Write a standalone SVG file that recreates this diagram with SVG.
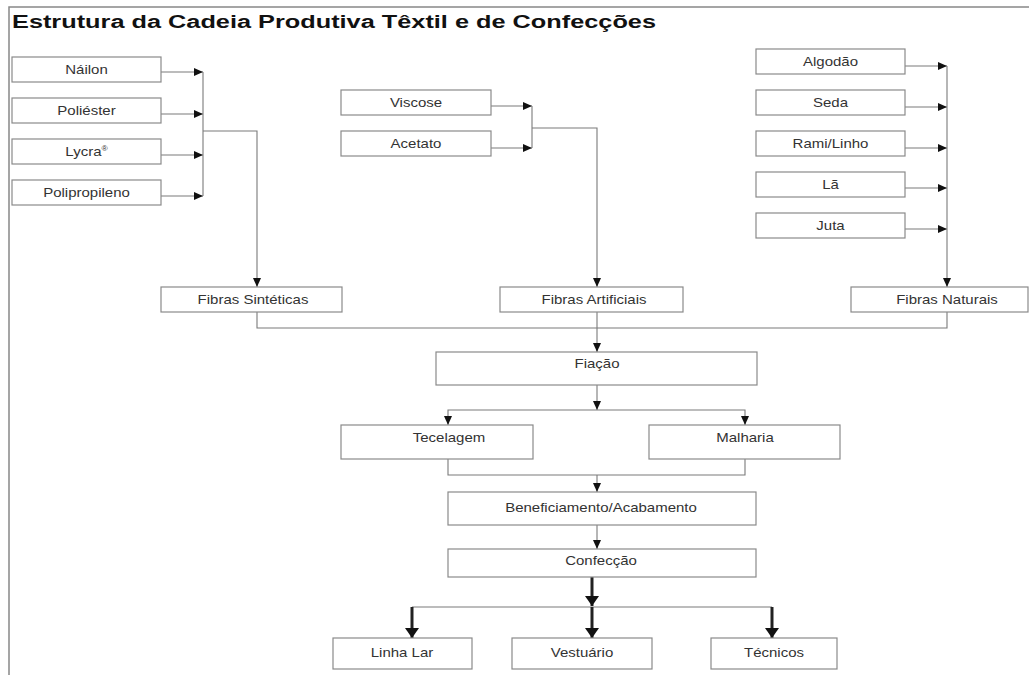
<svg xmlns="http://www.w3.org/2000/svg" width="1029" height="675" viewBox="0 0 1029 675">
<style>
.box{fill:#fff;stroke:#8a8a8a;stroke-width:1.2}
.lbl{font-family:"Liberation Sans",Arial,sans-serif;font-size:12.5px;fill:#333;text-anchor:middle}
.ln{fill:none;stroke:#7a7a7a;stroke-width:1.1}
.arr{fill:none;stroke:#7a7a7a;stroke-width:1.1;marker-end:url(#ah)}
.thick{fill:none;stroke:#222;stroke-width:3;marker-end:url(#ahb)}
</style>
<defs>
<marker id="ah" markerUnits="userSpaceOnUse" markerWidth="10" markerHeight="8" refX="9" refY="4" orient="auto"><path d="M0,0 L9,4 L0,8 z" fill="#111"/></marker>
<marker id="ahb" markerUnits="userSpaceOnUse" markerWidth="11" markerHeight="14" refX="10" refY="7" orient="auto"><path d="M0,0 L10,7 L0,14 z" fill="#111"/></marker>
</defs>
<rect width="1029" height="675" fill="#fff"/>
<path d="M9,675 V7 H1029" fill="none" stroke="#888" stroke-width="1.5"/>
<text x="12" y="28" font-family="'Liberation Sans',Arial,sans-serif" font-weight="bold" font-size="18" fill="#111" textLength="644" lengthAdjust="spacingAndGlyphs">Estrutura da Cadeia Produtiva Têxtil e de Confecções</text>

<g id="connectors">
<path class="arr" d="M161,72 H203"/>
<path class="arr" d="M161,114 H203"/>
<path class="arr" d="M161,155 H203"/>
<path class="arr" d="M161,196 H203"/>
<path class="ln" d="M203,72 V196"/>
<path class="arr" d="M203,131 H257 V287"/>
<path class="arr" d="M491,106 H532"/>
<path class="arr" d="M491,148 H532"/>
<path class="ln" d="M532,106 V148"/>
<path class="arr" d="M532,128 H597 V287"/>
<path class="arr" d="M905,66 H947"/>
<path class="arr" d="M905,107 H947"/>
<path class="arr" d="M905,148 H947"/>
<path class="arr" d="M905,188 H947"/>
<path class="arr" d="M905,229 H947"/>
<path class="arr" d="M947,66 V287"/>
<path class="ln" d="M257,312 V328 H947 V312"/>
<path class="arr" d="M597,312 V352"/>
<path class="arr" d="M597,385 V410"/>
<path class="arr" d="M597,410 H448 V425"/>
<path class="arr" d="M597,410 H745 V425"/>
<path class="ln" d="M448,459 V475 H745 V459"/>
<path class="arr" d="M597,475 V492"/>
<path class="arr" d="M597,525 V549"/>
<path class="ln" d="M412,607 H772"/>
<path class="thick" d="M592,577 V606"/>
<path class="thick" d="M412,607 V638"/>
<path class="thick" d="M592,607 V638"/>
<path class="thick" d="M772,607 V638"/>
</g>

<g id="nailon"><rect class="box" x="12" y="57" width="149" height="25"/><text class="lbl" transform="matrix(1.2 0 0 1 86.5 74)">Náilon</text></g>
<g id="poliester"><rect class="box" x="12" y="98" width="149" height="25"/><text class="lbl" transform="matrix(1.2 0 0 1 86.5 115)">Poliéster</text></g>
<g id="lycra"><rect class="box" x="12" y="139" width="149" height="25"/><text class="lbl" transform="matrix(1.2 0 0 1 86.5 156)">Lycra<tspan font-size="7" dy="-5">®</tspan></text></g>
<g id="polipropileno"><rect class="box" x="12" y="180" width="149" height="25"/><text class="lbl" transform="matrix(1.2 0 0 1 86.5 197)">Polipropileno</text></g>

<g id="viscose"><rect class="box" x="341" y="90" width="150" height="25"/><text class="lbl" transform="matrix(1.2 0 0 1 416 107)">Viscose</text></g>
<g id="acetato"><rect class="box" x="341" y="131" width="150" height="25"/><text class="lbl" transform="matrix(1.2 0 0 1 416 148)">Acetato</text></g>

<g id="algodao"><rect class="box" x="756" y="49" width="149" height="25"/><text class="lbl" transform="matrix(1.2 0 0 1 830.5 66)">Algodão</text></g>
<g id="seda"><rect class="box" x="756" y="90" width="149" height="25"/><text class="lbl" transform="matrix(1.2 0 0 1 830.5 107)">Seda</text></g>
<g id="rami"><rect class="box" x="756" y="131" width="149" height="25"/><text class="lbl" transform="matrix(1.2 0 0 1 830.5 148)">Rami/Linho</text></g>
<g id="la"><rect class="box" x="756" y="172" width="149" height="25"/><text class="lbl" transform="matrix(1.2 0 0 1 830.5 189)">Lã</text></g>
<g id="juta"><rect class="box" x="756" y="213" width="149" height="25"/><text class="lbl" transform="matrix(1.2 0 0 1 830.5 230)">Juta</text></g>

<g id="sinteticas"><rect class="box" x="161" y="287" width="181" height="25"/><text class="lbl" transform="matrix(1.2 0 0 1 253 303.5)">Fibras Sintéticas</text></g>
<g id="artificiais"><rect class="box" x="500" y="287" width="183" height="25"/><text class="lbl" transform="matrix(1.2 0 0 1 594 303.5)">Fibras Artificiais</text></g>
<g id="naturais"><rect class="box" x="851" y="287" width="177" height="25"/><text class="lbl" transform="matrix(1.2 0 0 1 947 303.5)">Fibras Naturais</text></g>

<g id="fiacao"><rect class="box" x="436" y="352" width="321" height="33"/><text class="lbl" transform="matrix(1.2 0 0 1 597 368)">Fiação</text></g>
<g id="tecelagem"><rect class="box" x="341" y="425" width="192" height="34"/><text class="lbl" transform="matrix(1.2 0 0 1 449 442)">Tecelagem</text></g>
<g id="malharia"><rect class="box" x="649" y="425" width="191" height="34"/><text class="lbl" transform="matrix(1.2 0 0 1 745 442)">Malharia</text></g>
<g id="beneficiamento"><rect class="box" x="448" y="492" width="308" height="33"/><text class="lbl" transform="matrix(1.2 0 0 1 601 512)">Beneficiamento/Acabamento</text></g>
<g id="confeccao"><rect class="box" x="448" y="549" width="308" height="28"/><text class="lbl" transform="matrix(1.2 0 0 1 601 565)">Confecção</text></g>

<g id="linhalar"><rect class="box" x="333" y="638" width="139" height="31"/><text class="lbl" transform="matrix(1.2 0 0 1 402 657)">Linha Lar</text></g>
<g id="vestuario"><rect class="box" x="512" y="638" width="140" height="31"/><text class="lbl" transform="matrix(1.2 0 0 1 582 657)">Vestuário</text></g>
<g id="tecnicos"><rect class="box" x="711" y="638" width="126" height="31"/><text class="lbl" transform="matrix(1.2 0 0 1 774 657)">Técnicos</text></g>
</svg>
